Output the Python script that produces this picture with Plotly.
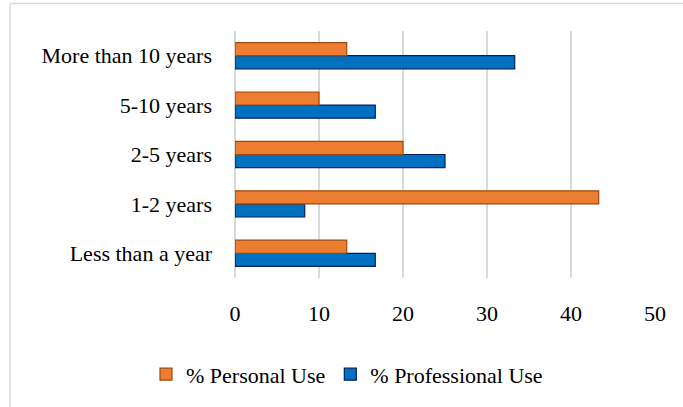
import plotly.graph_objects as go

categories = ["Less than a year", "1-2 years", "2-5 years", "5-10 years", "More than 10 years"]
personal = [13.3, 43.3, 20.0, 10.0, 13.3]
professional = [16.7, 8.3, 25.0, 16.7, 33.3]
x_ticks = [0, 10, 20, 30, 40, 50]

FONT = "Liberation Serif, Times New Roman, serif"
FS = 22

fig = go.Figure()
fig.add_trace(go.Bar(
    y=categories, x=professional, orientation="h", name="% Professional Use",
    marker=dict(color="#0070C0", line=dict(color="#002060", width=1.2)),
))
fig.add_trace(go.Bar(
    y=categories, x=personal, orientation="h", name="% Personal Use",
    marker=dict(color="#ED7D31", line=dict(color="#9E480E", width=1.2)),
))

fig.update_layout(
    width=683, height=407,
    margin=dict(l=235, r=28, t=31, b=129),
    barmode="group", bargap=0.47, bargroupgap=0,
    plot_bgcolor="white", paper_bgcolor="white",
    font=dict(family=FONT, size=FS, color="#000000"),
    showlegend=True,
    legend=dict(orientation="h", x=(146 - 235) / 420, xanchor="left", y=-0.39, yanchor="middle",
                traceorder="reversed", font=dict(family=FONT, size=FS, color="#000000"),
                itemwidth=30, tracegroupgap=0),
    xaxis=dict(range=[0, 50], tickvals=x_ticks, showgrid=True, gridcolor="#D9D9D9",
               gridwidth=1.5, zeroline=True, zerolinecolor="#D9D9D9", zerolinewidth=1.5,
               showline=False, ticks="",
               ticklabelstandoff=20, tickfont=dict(family=FONT, size=FS)),
    yaxis=dict(showgrid=False, showline=False, ticks="", ticklabelstandoff=22,
               tickfont=dict(family=FONT, size=FS)),
    shapes=[
        dict(type="line", xref="paper", yref="paper", x0=(10 - 235) / 420, x1=(683 - 235) / 420,
             y0=(278 - 3.5) / 247, y1=(278 - 3.5) / 247, line=dict(color="#D9D9D9", width=1.5)),
        dict(type="line", xref="paper", yref="paper", x0=(10 - 235) / 420, x1=(10 - 235) / 420,
             y0=(278 - 3.5) / 247, y1=(278 - 407) / 247, line=dict(color="#D9D9D9", width=1.5)),
    ],
)

fig.write_html("out.html")
